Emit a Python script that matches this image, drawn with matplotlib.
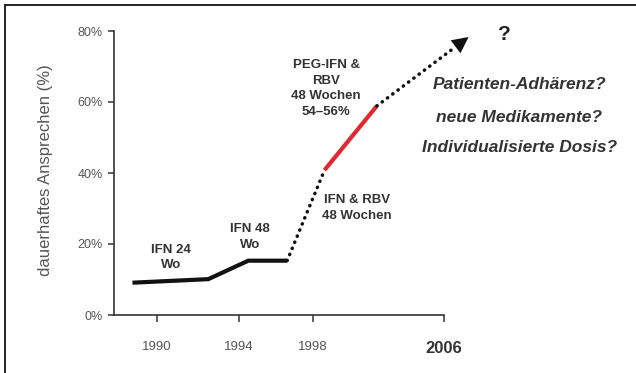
import numpy as np
import matplotlib
matplotlib.use("Agg")
import matplotlib.pyplot as plt
from matplotlib.lines import Line2D

plt.rcParams['font.family'] = ['Liberation Sans', 'DejaVu Sans']

# ---------------- data ----------------
tick_years = [1990, 1994, 1998, 2006]
tick_labels = ["1990", "1994", "1998", "2006"]
y_ticks = [0, 20, 40, 60, 80]
y_tick_labels = ["0%", "20%", "40%", "60%", "80%"]

ifn_years = [1988.8, 1992.5, 1994.5, 1996.6]
ifn_vals = [9.1, 10.1, 15.3, 15.3]

rbv_years = [1996.6, 1998.7]
rbv_vals = [15.3, 40.8]

peg_years = [1998.7, 2001.9]
peg_vals = [40.8, 58.9]

future_years = [2001.9, 2007.5]
future_vals = [58.9, 78.3]

questions = ["Patienten-Adhärenz?", "neue Medikamente?", "Individualisierte Dosis?"]

# ---------------- scale (schematic, piecewise time axis) ----------------
ky = np.array([1990.0, 1994.0, 1998.0, 2006.0])
kp = np.array([157.0, 239.0, 313.0, 444.0])


def _pw(x, a, b):
    x = np.asarray(x, float)
    y = np.interp(x, a, b)
    y = np.where(x < a[0], b[0] + (x - a[0]) * (b[1] - b[0]) / (a[1] - a[0]), y)
    y = np.where(x > a[-1], b[-1] + (x - a[-1]) * (b[-1] - b[-2]) / (a[-1] - a[-2]), y)
    return y


def fwd(x):
    return _pw(x, ky, kp)


def inv(p):
    return _pw(p, kp, ky)


W, H = 636, 373
fig = plt.figure(figsize=(W / 100, H / 100), dpi=100)
ax = fig.add_axes([114 / W, 1 - 315 / H, (444 - 114) / W, (315 - 31) / H])
ax.set_xscale('function', functions=(fwd, inv))
ax.set_xlim(1987.9, 2006)
ax.set_ylim(0, 80)

for s in ['top', 'right']:
    ax.spines[s].set_visible(False)
for s in ['left', 'bottom']:
    ax.spines[s].set_color('#333333')
    ax.spines[s].set_linewidth(1.2)

ax.set_xticks(tick_years)
ax.set_xticklabels(tick_labels)
ax.set_yticks(y_ticks)
ax.set_yticklabels(y_tick_labels)
ax.xaxis.set_minor_locator(matplotlib.ticker.NullLocator())
ax.tick_params(axis='x', direction='out', length=5, width=1.1, color='#333333',
               pad=14, labelsize=9.5, labelcolor='#555555')
ax.tick_params(axis='y', direction='out', length=4, width=1.1, color='#333333',
               pad=4, labelsize=9, labelcolor='#555555')
lbl = ax.get_xticklabels()[-1]
lbl.set_fontweight('bold')
lbl.set_fontsize(12)
lbl.set_color('#333333')

ax.set_ylabel("dauerhaftes Ansprechen (%)", fontsize=12, color='#555555')
ax.yaxis.set_label_coords(-0.185, 0.51)

# lines
ax.plot(ifn_years, ifn_vals, color='#111111', lw=3, solid_capstyle='butt',
        solid_joinstyle='miter', clip_on=False)
ax.plot(rbv_years, rbv_vals, color='#111111', lw=2.5, linestyle=(0, (0.1, 1.8)),
        dash_capstyle='round', clip_on=False)
ax.plot(peg_years, peg_vals, color='#e0282e', lw=3, solid_capstyle='butt', clip_on=False)
ax.plot(future_years[:1] + [future_years[0] + (future_years[1] - future_years[0]) * 0.85],
        future_vals[:1] + [future_vals[0] + (future_vals[1] - future_vals[0]) * 0.85],
        color='#111111', lw=2.5, linestyle=(0, (0.1, 1.8)),
        dash_capstyle='round', clip_on=False)
ax.annotate('', xy=(future_years[1], future_vals[1]),
            xytext=(future_years[0], future_vals[0]),
            arrowprops=dict(arrowstyle='-|>,head_length=0.9,head_width=0.45',
                            mutation_scale=13, color='#111111', lw=0,
                            shrinkA=0, shrinkB=0),
            annotation_clip=False)

# labels
lab = dict(ha='center', va='center', fontsize=9.5, fontweight='bold',
           color='#333333', linespacing=1.4)
ax.text(1990.7, 16.2, "IFN 24\nWo", **lab)
ax.text(1994.6, 22.0, "IFN 48\nWo", **lab)
ax.text(2000.7, 30.1, "IFN & RBV\n48 Wochen", **lab)
ax.text(1998.8, 63.8, "PEG-IFN &\nRBV\n48 Wochen\n54–56%", **lab)

ax.text(2009.7, 78.9, "?", ha='center', va='center', fontsize=15,
        fontweight='bold', color='#222222')
q_y = [65.0, 55.6, 47.3]
for t, yy in zip(questions, q_y):
    ax.text(2010.6, yy, t, ha='center', va='center', fontsize=12.5,
            fontweight='bold', fontstyle='italic', color='#333333')

# frame lines
fig.add_artist(Line2D([5 / W, 1], [1 - 5 / H, 1 - 5 / H], transform=fig.transFigure,
                      color='#222222', lw=1.4))
fig.add_artist(Line2D([5 / W, 5 / W], [0, 1 - 5 / H], transform=fig.transFigure,
                      color='#222222', lw=1.4))

fig.savefig("out.png", dpi=100)
